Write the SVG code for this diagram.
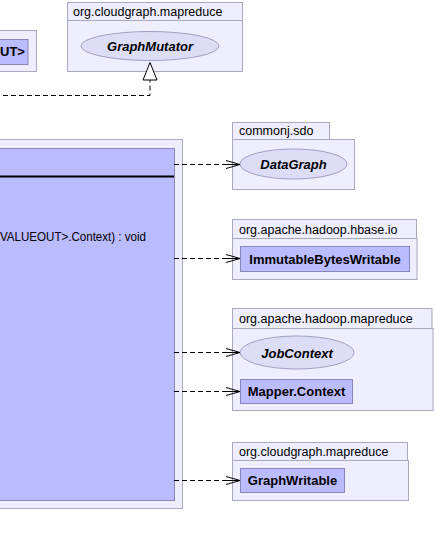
<svg xmlns="http://www.w3.org/2000/svg" width="436" height="546" viewBox="0 0 436 546">
<defs>
<style>
.pkg{fill:#eeeeff;stroke:#a8a8c0;stroke-width:1}
.cls{fill:#bbbbff;stroke:#8888b8;stroke-width:1}
.ell{fill:#ddddf8;stroke:#a0a0c0;stroke-width:1}
.plab{font-family:"Liberation Sans",Arial,sans-serif;font-size:12.5px;fill:#000}
.cname{font-family:"Liberation Sans",Arial,sans-serif;font-size:13px;font-weight:bold;fill:#000}
.iname{font-family:"Liberation Sans",Arial,sans-serif;font-size:13px;font-weight:bold;font-style:italic;fill:#000}
.mtxt{font-family:"Liberation Sans",Arial,sans-serif;font-size:12px;fill:#000}
.dep{fill:none;stroke:#000;stroke-width:1;stroke-dasharray:5,3}
</style>
<marker id="open" markerWidth="16" markerHeight="10" refX="14" refY="5" orient="auto" markerUnits="userSpaceOnUse">
<path d="M0,1 L14,5 L0,9 M0,5 L14,5" fill="none" stroke="#000" stroke-width="1"/>
</marker>
</defs>
<rect width="436" height="546" fill="#fff"/>

<g id="pkg-left-top">
<rect class="pkg" x="-10" y="30.5" width="46.5" height="41"/>
<rect class="cls" x="-10" y="39.5" width="38" height="25"/>
<text class="cname" x="0" y="56">UT&gt;</text>
</g>

<g id="pkg-graphmutator">
<rect class="pkg" x="67.5" y="2.5" width="175" height="18"/>
<rect class="pkg" x="67.5" y="20.5" width="175" height="51"/>
<text class="plab" x="73" y="16">org.cloudgraph.mapreduce</text>
<ellipse class="ell" cx="150" cy="46" rx="69" ry="14.5"/>
<text class="iname" x="150" y="51" text-anchor="middle">GraphMutator</text>
</g>

<g id="pkg-main">
<rect class="pkg" x="-10" y="139.5" width="192.5" height="369"/>
<rect class="cls" x="-10" y="148.5" width="184.5" height="352"/>
<line x1="-10" y1="176.5" x2="174" y2="176.5" stroke="#000" stroke-width="2"/>
<text class="mtxt" x="0" y="241" textLength="146" lengthAdjust="spacingAndGlyphs">VALUEOUT&gt;.Context) : void</text>
</g>

<g id="pkg-commonj">
<rect class="pkg" x="232.5" y="122.5" width="97" height="17"/>
<rect class="pkg" x="232.5" y="139.5" width="122" height="50"/>
<text class="plab" x="239" y="135">commonj.sdo</text>
<ellipse class="ell" cx="293.5" cy="164" rx="53.5" ry="15"/>
<text class="iname" x="293.5" y="169" text-anchor="middle">DataGraph</text>
</g>

<g id="pkg-hbase">
<rect class="pkg" x="232.5" y="219.5" width="184" height="19"/>
<rect class="pkg" x="232.5" y="238.5" width="184.5" height="41"/>
<text class="plab" x="239" y="234">org.apache.hadoop.hbase.io</text>
<rect class="cls" x="240.5" y="246.5" width="169" height="25"/>
<text class="cname" x="325" y="264" text-anchor="middle">ImmutableBytesWritable</text>
</g>

<g id="pkg-mapreduce">
<rect class="pkg" x="232.5" y="308.5" width="199.5" height="20"/>
<rect class="pkg" x="232.5" y="328.5" width="200.5" height="82"/>
<text class="plab" x="239" y="323">org.apache.hadoop.mapreduce</text>
<ellipse class="ell" cx="297" cy="352.5" rx="57" ry="16.5"/>
<text class="iname" x="297" y="357.5" text-anchor="middle">JobContext</text>
<rect class="cls" x="240.5" y="379.5" width="112" height="24"/>
<text class="cname" x="296.5" y="396" text-anchor="middle">Mapper.Context</text>
</g>

<g id="pkg-graphwritable">
<rect class="pkg" x="232.5" y="442.5" width="175" height="18"/>
<rect class="pkg" x="232.5" y="460.5" width="176" height="40"/>
<text class="plab" x="239" y="456">org.cloudgraph.mapreduce</text>
<rect class="cls" x="240.5" y="468.5" width="104" height="24"/>
<text class="cname" x="292.5" y="485" text-anchor="middle">GraphWritable</text>
</g>

<g id="connectors">
<polyline class="dep" points="-5,95.5 150,95.5 150,80"/>
<polygon points="150,62.5 143,80 157,80" fill="#fff" stroke="#000" stroke-width="1"/>
<line class="dep" x1="174" y1="164.5" x2="240" y2="164.5" marker-end="url(#open)"/>
<line class="dep" x1="174" y1="258.5" x2="240" y2="258.5" marker-end="url(#open)"/>
<line class="dep" x1="174" y1="352.5" x2="240" y2="352.5" marker-end="url(#open)"/>
<line class="dep" x1="174" y1="391.5" x2="240" y2="391.5" marker-end="url(#open)"/>
<line class="dep" x1="174" y1="480.5" x2="240" y2="480.5" marker-end="url(#open)"/>
</g>
</svg>
